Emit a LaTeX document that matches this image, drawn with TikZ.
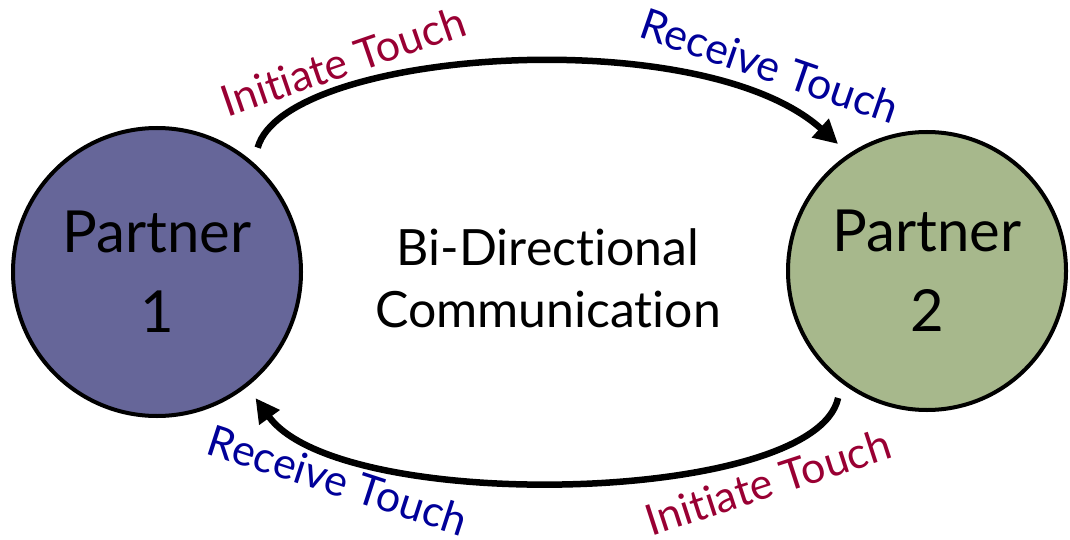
\documentclass[tikz,border=0pt]{standalone}
\usepackage{fontspec}
\setmainfont{Lato}[Ligatures={NoCommon,NoDiscretionary,NoRare}]
\usetikzlibrary{arrows.meta}
\definecolor{pone}{HTML}{666699}
\definecolor{ptwo}{HTML}{A7B88C}
\definecolor{lred}{HTML}{990033}
\definecolor{lblue}{HTML}{000099}
\tikzset{
  partner/.style={circle, draw=black, line width=4pt, minimum size=288pt, inner sep=0pt, outer sep=16pt, align=center, font=\fontsize{58}{80}\selectfont},
  flow/.style={line width=6.5pt, -{Triangle[length=24pt,width=24pt]}},
  lblred/.style={text=lred, inner sep=1pt, font=\fontsize{43}{48}\selectfont},
  lblblue/.style={text=lblue, inner sep=1pt, font=\fontsize{43}{48}\selectfont},
  mid/.style={align=center, font=\fontsize{50}{62}\selectfont}
}
\begin{document}
\begin{tikzpicture}[x=1pt,y=-1pt]
\useasboundingbox (0,0) rectangle (1070,540);
\node[partner, fill=pone] (p1) at (157,272) {Partner\\1};
\node[partner, fill=ptwo, minimum size=278pt] (p2) at (927,271) {Partner\\2};
\node[mid] (bidir) at (548,278) {Bi-Directional\\Communication};
\node[lblred, rotate=19] (it1) at (343,61) {Initiate Touch};
\node[lblblue, rotate=-19] (rt1) at (770,66) {Receive Touch};
\node[lblblue, rotate=-18] (rt2) at (338,480) {Receive Touch};
\node[lblred, rotate=18] (it2) at (768,482) {Initiate Touch};
\draw[flow] (p1.51) .. controls (285,50) and (700,20) .. (p2.125);
\draw[flow] (p2.235) .. controls (815,505) and (340,515) .. (p1.308);
\end{tikzpicture}
\end{document}
